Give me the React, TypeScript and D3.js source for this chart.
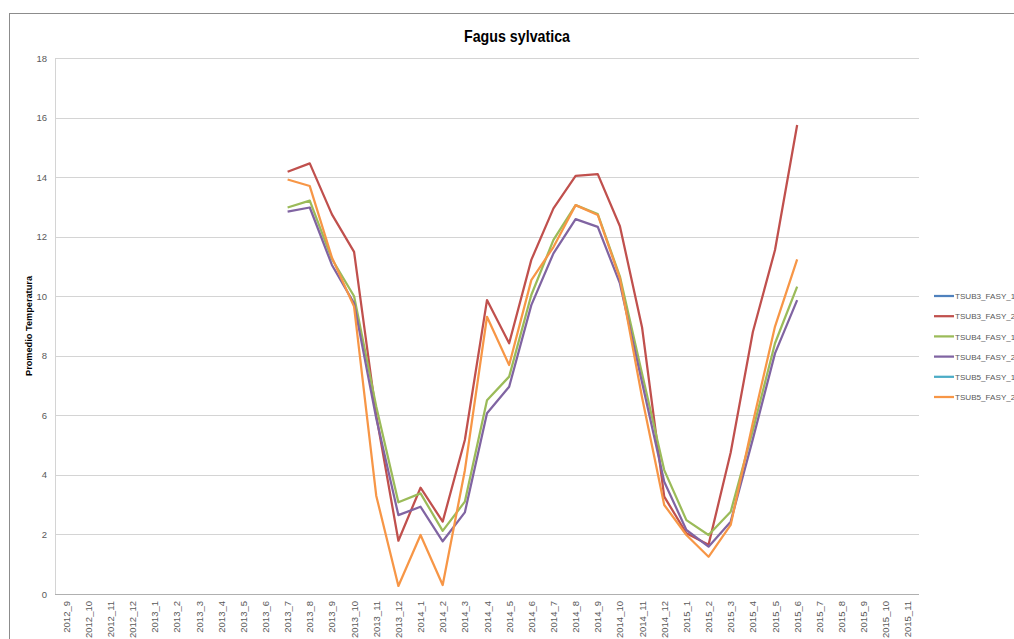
import React from "react";
import * as d3 from "d3";

// Monthly categories on the x axis
const months: string[] = [
  "2012_9", "2012_10", "2012_11", "2012_12",
  "2013_1", "2013_2", "2013_3", "2013_4", "2013_5", "2013_6", "2013_7", "2013_8", "2013_9", "2013_10", "2013_11", "2013_12",
  "2014_1", "2014_2", "2014_3", "2014_4", "2014_5", "2014_6", "2014_7", "2014_8", "2014_9", "2014_10", "2014_11", "2014_12",
  "2015_1", "2015_2", "2015_3", "2015_4", "2015_5", "2015_6", "2015_7", "2015_8", "2015_9", "2015_10", "2015_11",
];

// Months that carry readings (2013_7 .. 2015_6)
const measuredMonths: string[] = months.slice(10, 34);

// Average temperature per series, aligned with measuredMonths
const tsub3Fasy1: (number | null)[] = [];
const tsub3Fasy2: number[] = [
  14.18, 14.46, 12.75, 11.49, 6.0, 1.79, 3.57, 2.43, 5.17, 9.87, 8.42, 11.22,
  12.95, 14.04, 14.1, 12.35, 8.95, 3.27, 2.04, 1.65, 4.75, 8.8, 11.55, 15.75,
];
const tsub4Fasy1: number[] = [
  12.98, 13.21, 11.25, 10.0, 6.3, 3.08, 3.38, 2.12, 3.1, 6.51, 7.3, 10.04,
  11.89, 13.06, 12.76, 10.66, 7.4, 4.16, 2.48, 1.98, 2.76, 5.5, 8.42, 10.32,
];
const tsub4Fasy2: number[] = [
  12.84, 12.98, 11.05, 9.76, 5.9, 2.65, 2.93, 1.77, 2.74, 6.07, 6.96, 9.7,
  11.44, 12.59, 12.33, 10.43, 7.1, 3.77, 2.15, 1.59, 2.43, 5.2, 8.08, 9.87,
];
const tsub5Fasy1: (number | null)[] = [];
const tsub5Fasy2: number[] = [
  13.92, 13.7, 11.3, 9.65, 3.3, 0.27, 1.98, 0.3, 4.15, 9.31, 7.69, 10.54,
  11.65, 13.06, 12.73, 10.6, 6.6, 2.99, 1.98, 1.25, 2.32, 5.75, 8.98, 11.24,
];

const seriesNames: string[] = [
  "TSUB3_FASY_1", "TSUB3_FASY_2", "TSUB4_FASY_1", "TSUB4_FASY_2", "TSUB5_FASY_1", "TSUB5_FASY_2",
];
const seriesValues: (number | null)[][] = [tsub3Fasy1, tsub3Fasy2, tsub4Fasy1, tsub4Fasy2, tsub5Fasy1, tsub5Fasy2];
const seriesColors: string[] = ["#4F81BD", "#C0504D", "#9BBB59", "#8064A2", "#4BACC6", "#F79646"];

const yTicks: number[] = [0, 2, 4, 6, 8, 10, 12, 14, 16, 18];

const W = 1014;
const H = 639;
const plot = { left: 55, right: 919, top: 58, bottom: 594 };

export default function App() {
  const x = d3.scaleBand<string>().domain(months).range([plot.left, plot.right]).paddingInner(0).paddingOuter(0);
  const y = d3.scaleLinear().domain([0, 18]).range([plot.bottom, plot.top]);

  const line = d3
    .line<[string, number | null]>()
    .defined((d) => d[1] != null)
    .x((d) => (x(d[0]) as number) + x.bandwidth() / 2)
    .y((d) => y(d[1] as number));

  const font = "'Liberation Sans', 'DejaVu Sans', sans-serif";

  return (
    <svg
      width={W}
      height={H}
      style={{ position: "absolute", left: 0, top: 0, background: "#fff" }}
      fontFamily={font}
    >
      <rect x={0} y={0} width={W} height={H} fill="#fff" />
      {/* chart area frame */}
      <rect x={9.5} y={13.5} width={W + 20} height={H + 20} fill="none" stroke="#8c8c8c" strokeWidth={1} />

      <text
        x={517}
        y={42}
        textAnchor="middle"
        fontSize={16.5}
        fontWeight="bold"
        fill="#000"
        textLength={106}
        lengthAdjust="spacingAndGlyphs"
      >
        Fagus sylvatica
      </text>

      {/* horizontal gridlines */}
      {yTicks.map((t) => (
        <line
          key={"g" + t}
          x1={plot.left}
          x2={plot.right}
          y1={Math.round(y(t)) + 0.5}
          y2={Math.round(y(t)) + 0.5}
          stroke={t === 0 ? "#b0b0b0" : "#d4d4d4"}
          strokeWidth={1}
        />
      ))}
      <line x1={plot.left + 0.5} x2={plot.left + 0.5} y1={plot.top} y2={plot.bottom} stroke="#d4d4d4" strokeWidth={1} />

      {/* y tick labels */}
      {yTicks.map((t) => (
        <text key={"yt" + t} x={47} y={y(t) + 3.5} textAnchor="end" fontSize={9.5} fill="#595959">
          {t}
        </text>
      ))}

      <text
        transform={`translate(32, ${(plot.top + plot.bottom) / 2}) rotate(-90)`}
        textAnchor="middle"
        fontSize={8.5}
        fontWeight="bold"
        fill="#000"
        textLength={100}
        lengthAdjust="spacingAndGlyphs"
      >
        Promedio Temperatura
      </text>

      {/* x tick labels */}
      {months.map((m) => {
        const cx = (x(m) as number) + x.bandwidth() / 2;
        return (
          <text
            key={"xt" + m}
            transform={`translate(${cx + 3.5}, 601) rotate(-90)`}
            textAnchor="end"
            fontSize={9.5}
            fill="#595959"
          >
            {m}
          </text>
        );
      })}

      {/* series lines */}
      {seriesValues.map((vals, i) => {
        const pts: [string, number | null][] = vals.map((v, j) => [measuredMonths[j], v]);
        const d = pts.length ? line(pts) : null;
        return d ? (
          <path
            key={"s" + i}
            d={d}
            fill="none"
            stroke={seriesColors[i]}
            strokeWidth={2.25}
            strokeLinejoin="round"
          />
        ) : null;
      })}

      {/* legend */}
      {seriesNames.map((n, i) => {
        const ly = 296 + i * 20.2;
        return (
          <g key={"lg" + n}>
            <line x1={934} x2={954} y1={ly} y2={ly} stroke={seriesColors[i]} strokeWidth={2.25} />
            <text x={955} y={ly + 3.2} fontSize={8.1} fill="#595959">
              {n}
            </text>
          </g>
        );
      })}
    </svg>
  );
}
